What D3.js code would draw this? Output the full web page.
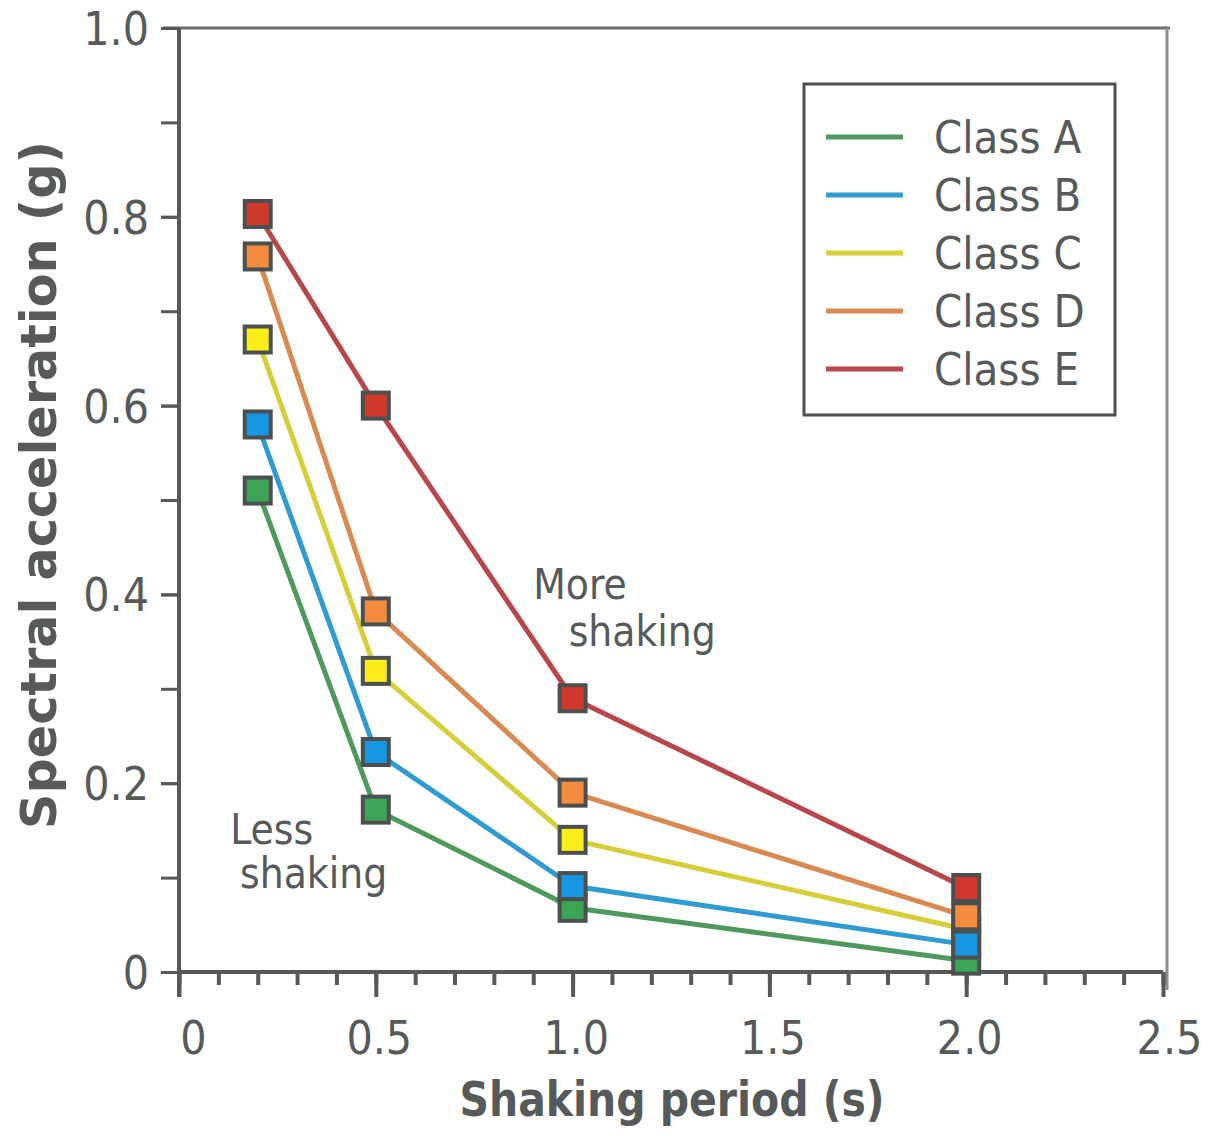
<!DOCTYPE html>
<html><head><meta charset="utf-8">
<script src="https://cdn.jsdelivr.net/npm/d3@7"></script>
<style>
html,body{margin:0;padding:0;background:#fff;}
svg{display:block;}
text{font-family:"Liberation Sans Narrow","DejaVu Sans Condensed","Arial Narrow",sans-serif;fill:#565a5a;}
</style></head>
<body>
<svg id="chart" width="1209" height="1136"></svg>
<script>
const periods = [0.2, 0.5, 1.0, 2.0];
const classNames = ["Class A","Class B","Class C","Class D","Class E"];
const classA = [0.51, 0.172, 0.068, 0.012];
const classB = [0.58, 0.233, 0.091, 0.029];
const classC = [0.67, 0.319, 0.140, 0.045];
const classD = [0.758, 0.382, 0.190, 0.059];
const classE = [0.803, 0.600, 0.290, 0.089];
const lineColors = ["#4e9a5e","#2f9bd0","#d6cf3a","#d98a52","#b8464a"];
const fillColors = ["#3ca656","#1996e2","#fbee1a","#f38c3e","#d03a2c"];
const xTickValues = [0, 0.5, 1.0, 1.5, 2.0, 2.5];
const xTickLabels = ["0","0.5","1.0","1.5","2.0","2.5"];
const yTickValues = [0, 0.2, 0.4, 0.6, 0.8, 1.0];
const yTickLabels = ["0","0.2","0.4","0.6","0.8","1.0"];
const annotations = [
  {lines:["More","shaking"], x:[0.9,0.99], y:[0.395,0.345]},
  {lines:["Less","shaking"], x:[0.13,0.155], y:[0.136,0.089]}
];

const series = [classA, classB, classC, classD, classE];
const svg = d3.select("#chart");
const x = d3.scaleLinear().domain([0, 2.5]).range([179, 1163]);
const y = d3.scaleLinear().domain([0, 1]).range([972, 28]);
const axisColor = "#555959";

// frame: top and right
svg.append("line").attr("x1",163).attr("x2",1170).attr("y1",y(1)).attr("y2",y(1))
  .attr("stroke","#6a6e6e").attr("stroke-width",3);
svg.append("line").attr("x1",1167).attr("x2",1167).attr("y1",y(1)).attr("y2",990)
  .attr("stroke","#8c9090").attr("stroke-width",3);

// x axis minor ticks
const minorX = d3.range(0, 26).map(i => i/10);
const gxm = svg.append("g").attr("transform",`translate(0,${y(0)})`)
  .call(d3.axisBottom(x).tickValues(minorX).tickSize(13).tickFormat(""));
const gx = svg.append("g").attr("transform",`translate(0,${y(0)})`)
  .call(d3.axisBottom(x).tickValues(xTickValues).tickSize(25).tickPadding(24)
    .tickFormat((d,i)=>xTickLabels[i]));
[gxm,gx].forEach(g=>{
  g.select(".domain").attr("stroke",axisColor).attr("stroke-width",4).attr("d",`M${x(0)},0H${x(2.5)}`);
  g.selectAll(".tick line").attr("stroke",axisColor).attr("stroke-width",4);
});
gx.selectAll(".tick text").attr("font-size",46).attr("fill","#565a5a").style("font-family",null)
  .attr("dx",(d,i)=> i===0 ? 14 : (i===5 ? 6 : 3));

// y axis
const minorY = d3.range(0, 11).map(i => i/10);
const gym = svg.append("g").attr("transform",`translate(${x(0)},0)`)
  .call(d3.axisLeft(y).tickValues(minorY).tickSize(18).tickFormat(""));
const gy = svg.append("g").attr("transform",`translate(${x(0)},0)`)
  .call(d3.axisLeft(y).tickValues(yTickValues).tickSize(18).tickPadding(12)
    .tickFormat((d,i)=>yTickLabels[i]));
[gym,gy].forEach(g=>{
  g.select(".domain").attr("stroke",axisColor).attr("stroke-width",4).attr("d",`M0,${y(1)}V${y(0)+25}`);
  g.selectAll(".tick line").attr("stroke",axisColor).attr("stroke-width",3);
});
gy.selectAll(".tick text").attr("font-size",46).attr("fill","#565a5a").attr("dy","0.36em").style("font-family",null);
svg.selectAll("g").attr("font-family",null);

// lines
const line = d3.line().x((d,i)=>x(periods[i])).y(d=>y(d));
series.forEach((s,k)=>{
  svg.append("path").datum(s).attr("d",line).attr("fill","none")
    .attr("stroke",lineColors[k]).attr("stroke-width",5);
});
// markers
const ms = 26;
[2,0,1,3,4].forEach(k=>{
  svg.append("g").selectAll("rect").data(series[k]).join("rect")
    .attr("x",(d,i)=>x(periods[i])-ms/2).attr("y",d=>y(d)-ms/2)
    .attr("width",ms).attr("height",ms)
    .attr("fill",fillColors[k]).attr("stroke","#4c5050").attr("stroke-width",4);
});

// annotations
annotations.forEach(a=>{
  a.lines.forEach((t,i)=>{
    svg.append("text").attr("x",x(a.x[i])).attr("y",y(a.y[i]))
      .attr("font-size",42).text(t);
  });
});

// legend
svg.append("rect").attr("x",804).attr("y",84).attr("width",311).attr("height",331)
  .attr("fill","#fff").attr("stroke","#4c5050").attr("stroke-width",3);
classNames.forEach((n,k)=>{
  const ly = 137 + k*58;
  svg.append("line").attr("x1",826).attr("x2",903).attr("y1",ly).attr("y2",ly)
    .attr("stroke",lineColors[k]).attr("stroke-width",5);
  svg.append("text").attr("x",934).attr("y",ly).attr("dy","0.36em")
    .attr("font-size",45).text(n);
});

// axis titles
svg.append("text").attr("x",672).attr("y",1116).attr("text-anchor","middle")
  .attr("font-size",48).attr("font-weight","bold")
  .attr("textLength",425).attr("lengthAdjust","spacingAndGlyphs").text("Shaking period (s)");
svg.append("text").attr("transform","translate(56,485) rotate(-90)").attr("text-anchor","middle")
  .attr("font-size",50).attr("font-weight","bold")
  .attr("textLength",688).attr("lengthAdjust","spacingAndGlyphs").text("Spectral acceleration (g)");
</script>
</body></html>
